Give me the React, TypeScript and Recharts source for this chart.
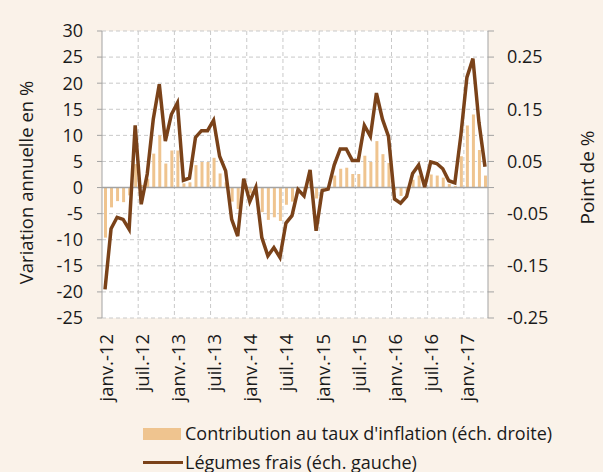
import React from 'react';
import { ComposedChart, Bar, Line, XAxis, YAxis, CartesianGrid, ReferenceLine } from 'recharts';

// Monthly categories, janv.-12 to avr.-17
const monthNames = ['janv.', 'févr.', 'mars', 'avr.', 'mai', 'juin', 'juil.', 'août', 'sept.', 'oct.', 'nov.', 'déc.'];
const years = ['12', '13', '14', '15', '16', '17'];

// Légumes frais, variation annuelle en % (left scale)
const legumes = [
  -19.5, -7.9, -5.7, -6.1, -8.0, 11.9, -3.2, 2.6, 13.1, 19.8, 8.9, 14.0,
  16.2, 1.4, 1.8, 9.6, 10.9, 10.9, 12.9, 6.0, 3.2, -6.1, -9.3, 1.7,
  -2.7, 0.0, -9.6, -13.1, -11.5, -13.4, -6.8, -5.4, -0.4, -1.6, 3.4, -8.3,
  -0.6, -0.3, 4.3, 7.4, 7.4, 5.2, 5.2, 11.9, 9.8, 18.1, 13.1, 9.8,
  -2.2, -3.0, -1.7, 2.7, 4.3, 0.1, 4.9, 4.6, 3.6, 1.3, 0.9, 10.0,
  21.1, 24.7, 12.5, 4.0,
];

// Contribution au taux d'inflation, point de % (right scale)
const contribution = [
  -0.096, -0.038, -0.026, -0.028, -0.015, 0.045, 0.005, 0.017, 0.065, 0.1, 0.046, 0.071,
  0.071, 0.008, 0.01, 0.043, 0.049, 0.049, 0.057, 0.027, 0.01, -0.027, -0.041, 0.005,
  -0.011, -0.002, -0.047, -0.062, -0.057, -0.064, -0.033, -0.027, -0.005, -0.008, 0.01, -0.021,
  -0.003, -0.001, 0.023, 0.036, 0.038, 0.026, 0.026, 0.061, 0.049, 0.089, 0.064, 0.047,
  -0.005, -0.016, -0.008, 0.015, 0.023, 0.001, 0.025, 0.023, 0.019, 0.007, 0.003, 0.06,
  0.119, 0.14, 0.072, 0.023,
];

const leftTicks = [-25, -20, -15, -10, -5, 0, 5, 10, 15, 20, 25, 30];
const rightTicks = [-0.25, -0.2, -0.15, -0.1, -0.05, 0, 0.05, 0.1, 0.15, 0.2, 0.25, 0.3];
const rightLabelled = [-0.25, -0.15, -0.05, 0.05, 0.15, 0.25];

const categories: string[] = [];
years.forEach(y => monthNames.forEach(m => categories.push(`${m}-${y}`)));

const data = legumes.map((v, i) => ({ month: categories[i], legumes: v, contribution: contribution[i] }));

const BG = '#faf2e9';
const LINE = '#7a4219';
const BAR = '#efc48f';
const AXIS = '#a3a3a3';
const GRID = '#c9c9c9';
const TEXT = '#1a1a1a';
const FONT = '"Open Sans", sans-serif';

const MonthTick = (props: any) => {
  const { x, y, payload } = props;
  const ty = y + 8;
  return (
    <text
      x={x}
      y={ty}
      transform={`rotate(-90 ${x} ${ty})`}
      textAnchor="end"
      dominantBaseline="central"
      fontSize={18.5}
      fill={TEXT}
    >
      {payload.value}
    </text>
  );
};

const LeftTitle = (props: any) => {
  const { viewBox } = props;
  const cx = viewBox.x + 25;
  const cy = viewBox.y + viewBox.height / 2 + 8;
  return (
    <text x={cx} y={cy} transform={`rotate(-90 ${cx} ${cy})`} textAnchor="middle" dominantBaseline="central" fontSize={18.5} fill={TEXT}>
      Variation annuelle en %
    </text>
  );
};

const RightTitle = (props: any) => {
  const { viewBox } = props;
  const cx = viewBox.x + 99;
  const cy = viewBox.y + viewBox.height / 2 + 3;
  return (
    <text x={cx} y={cy} transform={`rotate(-90 ${cx} ${cy})`} textAnchor="middle" dominantBaseline="central" fontSize={19} fill={TEXT}>
      Point de %
    </text>
  );
};

// vertical gridlines sit between categories, every 6 months
const boundaryLines = ({ offset }: any) => {
  const step = offset.width / data.length;
  const out: number[] = [];
  for (let k = 6; k < data.length; k += 6) out.push(offset.left + k * step);
  return out;
};

export default function App() {
  return (
    <div style={{ position: 'absolute', left: 0, top: 0, width: 603, height: 472, background: BG, fontFamily: FONT, overflow: 'hidden' }}>
      <ComposedChart width={603} height={472} data={data} margin={{ top: 31, right: 0, bottom: 0, left: 0 }}>
        <CartesianGrid
          yAxisId="left"
          fill="#ffffff"
          fillOpacity={1}
          stroke={GRID}
          strokeDasharray="4 3"
          verticalCoordinatesGenerator={boundaryLines}
        />
        <XAxis
          dataKey="month"
          interval={5}
          height={154}
          axisLine={false}
          tickLine={false}
          tick={<MonthTick />}
        />
        <YAxis
          yAxisId="left"
          domain={[-25, 30]}
          ticks={leftTicks}
          width={102}
          stroke={AXIS}
          tickSize={5}
          tickMargin={14}
          tick={{ fill: TEXT, fontSize: 18 }}
          label={<LeftTitle />}
        />
        <YAxis
          yAxisId="right"
          orientation="right"
          domain={[-0.25, 0.3]}
          ticks={rightTicks}
          width={115}
          stroke={AXIS}
          tickSize={6}
          tickMargin={13}
          tick={{ fill: TEXT, fontSize: 18, textAnchor: 'start' }}
          tickFormatter={(v: number) => (rightLabelled.some(t => Math.abs(t - v) < 1e-9) ? v.toFixed(2) : '')}
          label={<RightTitle />}
        />
        <ReferenceLine yAxisId="left" y={0} stroke={AXIS} strokeWidth={1.5} />
        <Bar yAxisId="right" dataKey="contribution" fill={BAR} barSize={3} isAnimationActive={false} />
        <Line yAxisId="left" type="linear" dataKey="legumes" stroke={LINE} strokeWidth={3.5} dot={false} isAnimationActive={false} />
      </ComposedChart>
      <div style={{ position: 'absolute', left: 143, top: 419, fontSize: 18, color: TEXT, lineHeight: '29px', whiteSpace: 'nowrap' }}>
        <div style={{ display: 'flex', alignItems: 'center' }}>
          <span style={{ display: 'inline-block', width: 38, height: 12, background: BAR, marginRight: 4 }} />
          Contribution au taux d'inflation (éch. droite)
        </div>
        <div style={{ display: 'flex', alignItems: 'center' }}>
          <span style={{ display: 'inline-block', width: 40, height: 3, background: LINE, marginRight: 2 }} />
          Légumes frais (éch. gauche)
        </div>
      </div>
    </div>
  );
}
